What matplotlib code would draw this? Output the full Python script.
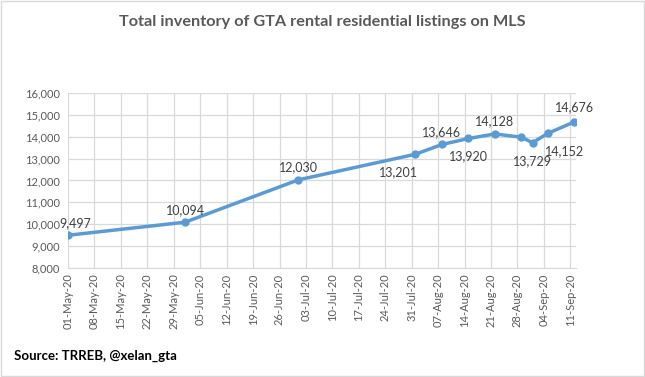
import numpy as np
import pandas as pd
import matplotlib
matplotlib.use('Agg')
import matplotlib.pyplot as plt
import matplotlib.dates as mdates

# data
dates = pd.to_datetime(["2020-05-01", "2020-06-01", "2020-07-01", "2020-08-01",
                        "2020-08-08", "2020-08-15", "2020-08-22", "2020-08-29",
                        "2020-09-01", "2020-09-05", "2020-09-12"])
listings = [9497, 10094, 12030, 13201, 13646, 13920, 14128, 13980, 13729, 14152, 14676]
show_label = [True, True, True, True, True, True, True, False, True, True, True]
# label offsets in points (dx, dy)
label_offsets = [(5, 9), (0, 9), (0, 9), (-12, -13), (0, 9), (0, -13),
                 (0, 9), (0, 0), (0, -13), (12, -13), (0, 11)]

tick_dates = pd.date_range("2020-05-01", "2020-09-11", freq="7D")
yticks = np.arange(8000, 16001, 1000)

GRAY = "#595959"
BLUE = "#5B9BD5"

plt.rcParams['font.family'] = ['Lato', 'DejaVu Sans']

fig = plt.figure(figsize=(6.45, 3.77), dpi=100)
ax = fig.add_axes([68 / 645, 1 - 268 / 377, (576 - 68) / 645, (268 - 93) / 377])

ax.plot(dates, listings, color=BLUE, lw=2.5, marker='o', ms=5, zorder=3)

for d, v, show, off in zip(dates, listings, show_label, label_offsets):
    if show:
        ax.annotate(f"{v:,}", (d, v), xytext=off, textcoords='offset points',
                    ha='center', va='center', fontsize=9, color="#404040")

ax.set_ylim(8000, 16000)
ax.set_yticks(yticks)
ax.set_yticklabels([f"{y:,}" for y in yticks])
ax.set_xlim(pd.Timestamp("2020-05-01"), pd.Timestamp("2020-09-12 12:00"))
ax.set_xticks(tick_dates)
ax.xaxis.set_major_formatter(mdates.DateFormatter("%d-%b-%y"))
plt.setp(ax.get_xticklabels(), rotation=90)

ax.grid(True, color="#D9D9D9", lw=0.9)
ax.set_axisbelow(True)
for side in ['top', 'right', 'left']:
    ax.spines[side].set_visible(False)
ax.spines['bottom'].set_color("#D9D9D9")
ax.tick_params(axis='both', length=0, labelsize=8, colors=GRAY, pad=4)
ax.tick_params(axis='y', pad=6)

fig.text(0.5, 1 - 22 / 377, "Total inventory of GTA rental residential listings on MLS",
         ha='center', va='center', fontsize=11.7, fontweight='bold', color=GRAY)
fig.text(14 / 645, 1 - 356 / 377, "Source: TRREB, @xelan_gta",
         ha='left', va='center', fontsize=9.5, fontweight='bold', color='black')

border = plt.Rectangle((0.001, 0.002), 0.997, 0.995, transform=fig.transFigure,
                       fill=False, edgecolor="#D9D9D9", lw=1)
fig.patches.append(border)

plt.savefig("out.png", dpi=100)
